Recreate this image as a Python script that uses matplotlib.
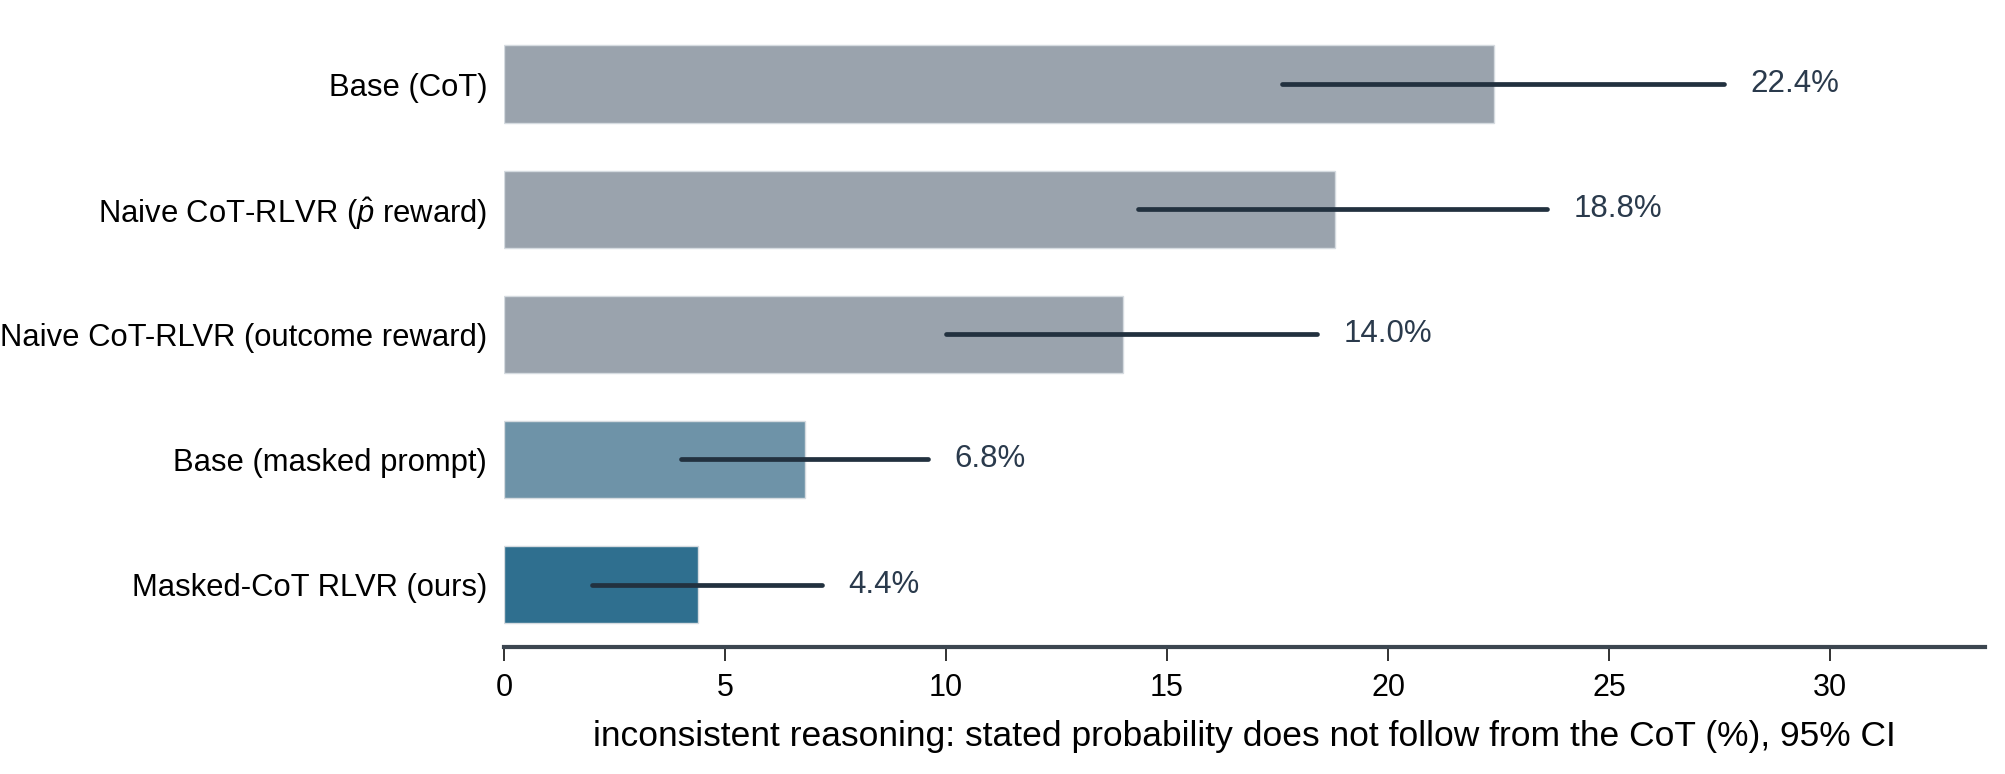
import matplotlib
matplotlib.use('Agg')
import matplotlib.pyplot as plt
import numpy as np

# データ
labels = [
    "Base (CoT)",
    r"Naive CoT-RLVR ($\hat{p}$ reward)",
    "Naive CoT-RLVR (outcome reward)",
    "Base (masked prompt)",
    "Masked-CoT RLVR (ours)",
]
values = [22.4, 18.8, 14.0, 6.8, 4.4]
ci_low = [17.6, 14.35, 10.0, 4.0, 2.0]
ci_high = [27.6, 23.6, 18.4, 9.6, 7.2]
bar_colors = ['#9aa3ad', '#9aa3ad', '#9aa3ad', '#6e93a8', '#2f6f8f']
xticks = [0, 5, 10, 15, 20, 25, 30]
xlabel = "inconsistent reasoning: stated probability does not follow from the CoT (%), 95% CI"

plt.rcParams['font.family'] = ['Liberation Sans', 'DejaVu Sans']
plt.rcParams['mathtext.fontset'] = 'custom'
plt.rcParams['mathtext.rm'] = 'Liberation Sans'
plt.rcParams['mathtext.it'] = 'Liberation Sans:italic'

fig = plt.figure(figsize=(20.06, 7.74), dpi=100)
ax = fig.add_axes([0.2512, 0.164, 0.7383, 0.808])

y = np.arange(len(labels))
ax.barh(y, values, height=0.62, color=bar_colors, edgecolor='#d5dbe0', linewidth=1.0, zorder=2)

# 信頼区間の線と値ラベル
ink = '#22313f'
for yi, lo, hi, v in zip(y, ci_low, ci_high, values):
    ax.plot([lo, hi], [yi, yi], color=ink, lw=3.4, solid_capstyle='round', zorder=3)
    ax.text(hi + 0.6, yi, f"{v:.1f}%", va='center', ha='left', fontsize=22.5, color='#2a3a4c')

ax.set_yticks(y)
ax.set_yticklabels(labels, fontsize=22.3)
ax.set_ylim(len(labels) - 0.5, -0.5)
ax.set_xlim(0, 33.5)
ax.set_xticks(xticks)
ax.tick_params(axis='x', labelsize=22, length=10, width=1.3, color='#222222', pad=9)
ax.tick_params(axis='y', length=0, pad=12)
ax.set_xlabel(xlabel, fontsize=25.5, labelpad=12)

for s in ['top', 'right', 'left']:
    ax.spines[s].set_visible(False)
ax.spines['bottom'].set_linewidth(3)
ax.spines['bottom'].set_color('#3c4650')

plt.savefig('out.png', dpi=100)
plt.close()
